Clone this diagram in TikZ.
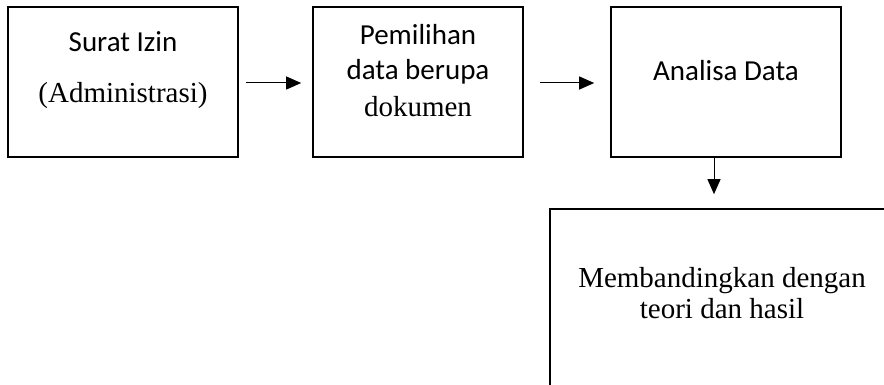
\documentclass[tikz,border=0pt]{standalone}
\usepackage{fontspec}
\setmainfont{Liberation Serif}
\newfontfamily\calibrifont{Carlito}
\usetikzlibrary{arrows.meta}

\tikzset{
  stepbox/.style={draw=black, line width=1.6pt, rectangle, inner sep=0pt},
  sanslabel/.style={anchor=base, font=\calibrifont\fontsize{29}{34}\selectfont, inner sep=0pt},
  seriflabel/.style={anchor=base, font=\fontsize{29}{34}\selectfont, inner sep=0pt},
  flow/.style={draw=black, line width=1pt, -{Triangle[length=15pt,width=13pt]}}
}

\begin{document}
\begin{tikzpicture}[x=1pt,y=-1pt]
\useasboundingbox (0,0) rectangle (884,385);
\clip (0,0) rectangle (884,385);

% process boxes
\node[stepbox, minimum width=230pt, minimum height=150pt] (b1) at (123,82) {};
\node[stepbox, minimum width=210pt, minimum height=150pt] (b2) at (418,82) {};
\node[stepbox, minimum width=230pt, minimum height=150pt] (b3) at (726,82) {};
\node[stepbox, minimum width=344pt, minimum height=191pt] (b4) at (722,304.5) {};

% box texts
\node[sanslabel]  (t1a) at (123,52)  {Surat Izin};
\node[seriflabel] (t1b) at (123,103) {(Administrasi)};
\node[sanslabel]  (t2a) at (418,45)  {Pemilihan};
\node[sanslabel]  (t2b) at (418,80)  {data berupa};
\node[seriflabel] (t2c) at (418,117) {dokumen};
\node[sanslabel]  (t3a) at (726,81)  {Analisa Data};
\node[seriflabel] (t4a) at (722,287) {Membandingkan dengan};
\node[seriflabel] (t4b) at (722,318) {teori dan hasil};

% connectors
\draw[flow, shorten <=7pt, shorten >=11pt] ([yshift=-1pt]b1.east) -- ([yshift=-1pt]b2.west);
\draw[flow, shorten <=16pt, shorten >=16pt] ([yshift=-1pt]b2.east) -- ([yshift=-1pt]b3.west);
\coordinate (drop) at ([xshift=-12pt]b3.south);
\draw[flow, shorten >=14pt] (drop) -- (drop |- b4.north);
\end{tikzpicture}
\end{document}
